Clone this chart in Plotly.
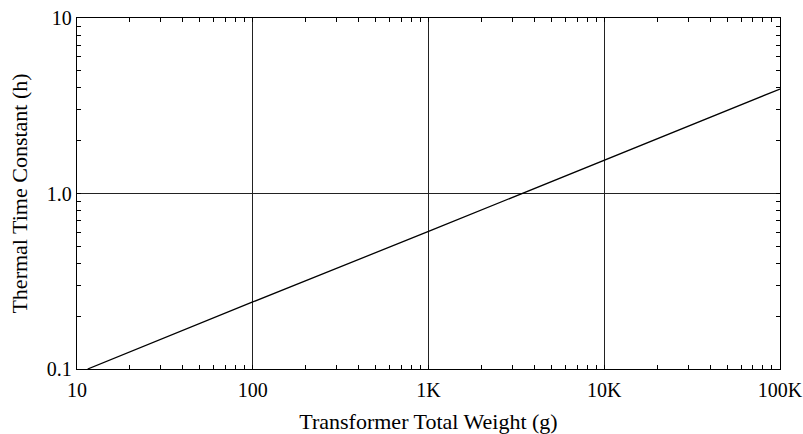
import plotly.graph_objects as go

# data
weight_g = [11.5, 100, 1000, 10000, 100000]
time_const_h = [0.1, 0.241, 0.608, 1.54, 3.94]

x_ticks = [10, 100, 1000, 10000, 100000]
x_labels = ["10", "100", "1K", "10K", "100K"]
y_ticks = [0.1, 1, 10]
y_labels = ["0.1", "1.0", "10"]

x_minor = [m * 10 ** d for d in range(1, 5) for m in range(2, 10)]
y_minor = [m * 10 ** d for d in range(-1, 1) for m in range(2, 10)]

font = "Liberation Serif, DejaVu Serif, serif"

trace = go.Scatter(
    x=weight_g, y=time_const_h,
    mode="lines",
    line=dict(color="black", width=1.3),
    hoverinfo="skip",
)

axis_common = dict(
    type="log",
    automargin=False,
    showline=True, linecolor="black", linewidth=1.3,
    mirror="ticks",
    showgrid=True, gridcolor="#222", gridwidth=1,
    zeroline=False,
    ticks="inside", ticklen=4, tickcolor="black",
    tickfont=dict(family=font, size=20, color="black"),
)

fig = go.Figure([trace])
fig.update_layout(
    width=803, height=434,
    margin=dict(l=77, r=23, t=18, b=65),
    paper_bgcolor="white", plot_bgcolor="white",
    showlegend=False,
    xaxis=dict(
        axis_common,
        range=[1, 5],
        tickmode="array", tickvals=x_ticks, ticktext=x_labels,
        ticklabelstandoff=3,
        minor=dict(tickmode="array", tickvals=x_minor, ticks="inside",
                   ticklen=4, tickcolor="black", showgrid=False),
        title=dict(text="Transformer Total Weight (g)", standoff=20,
                   font=dict(family=font, size=22, color="black")),
    ),
    yaxis=dict(
        axis_common,
        range=[-1, 1],
        tickmode="array", tickvals=y_ticks, ticktext=y_labels,
        minor=dict(tickmode="array", tickvals=y_minor, ticks="inside",
                   ticklen=4, tickcolor="black", showgrid=False),
        title=dict(text="Thermal Time Constant (h)", standoff=13,
                   font=dict(family=font, size=22, color="black")),
    ),
)

# drop the default page margin so the figure sits at the window's corner
fig.write_html("out.html", config={"displayModeBar": False},
               post_script="document.body.style.margin='0';")
